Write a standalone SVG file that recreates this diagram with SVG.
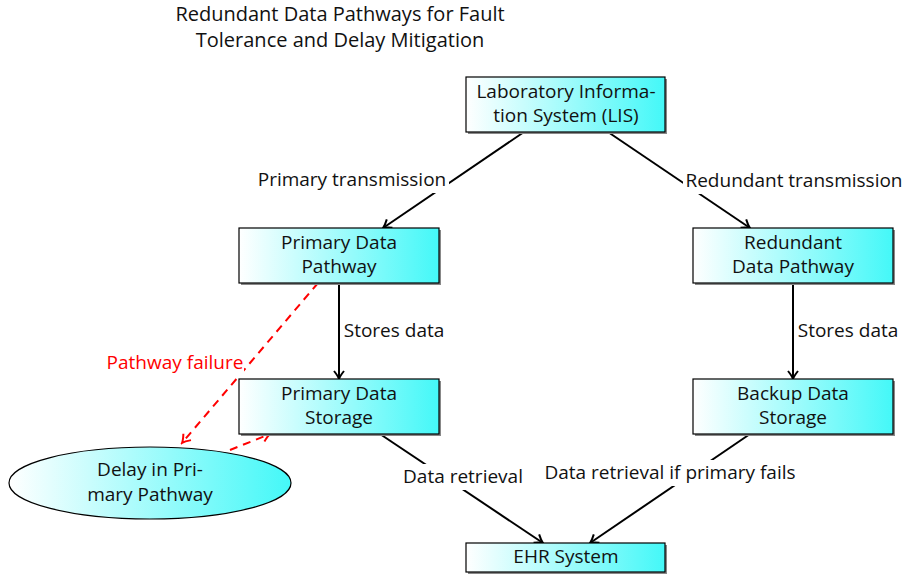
<svg xmlns="http://www.w3.org/2000/svg" width="906" height="574" viewBox="0 0 906 574">
  <style>
    text { font-family: "Open Sans", "Noto Sans", "DejaVu Sans", sans-serif; font-size: 19px; fill: #111; }
    .title { font-size: 20px; }
    .box { fill: url(#cyanGrad); stroke: #000; stroke-width: 1.2; }
    .shadow { fill: #888; }
    .edge { stroke: #000; stroke-width: 2; fill: none; marker-end: url(#arrowBlack); }
    .fail { stroke: #f00; stroke-width: 2; fill: none; stroke-dasharray: 8 6; marker-end: url(#arrowRed); }
    .lblbg { fill: #fff; }
    .red { fill: #f00; }
  </style>
  <defs>
    <linearGradient id="cyanGrad" x1="0" y1="0" x2="1" y2="0">
      <stop offset="0" stop-color="#ffffff"/>
      <stop offset="1" stop-color="#44f8f8"/>
    </linearGradient>
    <marker id="arrowBlack" viewBox="-10 -6 12 12" refX="0" refY="0" markerWidth="12" markerHeight="12" markerUnits="userSpaceOnUse" orient="auto">
      <path d="M-8,-5 Q-3,-1 0,0 Q-3,1 -8,5" fill="none" stroke="#000" stroke-width="2"/>
    </marker>
    <marker id="arrowRed" viewBox="-10 -6 12 12" refX="0" refY="0" markerWidth="12" markerHeight="12" markerUnits="userSpaceOnUse" orient="auto">
      <path d="M-8,-5 Q-3,-1 0,0 Q-3,1 -8,5" fill="none" stroke="#f00" stroke-width="2"/>
    </marker>
  </defs>

  <rect width="906" height="574" fill="#fff"/>

  <g id="title">
    <text class="title" x="340" y="21" text-anchor="middle">Redundant Data Pathways for Fault</text>
    <text class="title" x="340" y="47" text-anchor="middle">Tolerance and Delay Mitigation</text>
  </g>

  <g id="connectors">
    <line class="edge" x1="524" y1="132" x2="383" y2="228"/>
    <line class="edge" x1="608" y1="132" x2="750" y2="228"/>
    <line class="edge" x1="339" y1="283" x2="339" y2="379"/>
    <line class="edge" x1="793" y1="283" x2="793" y2="379"/>
    <line class="edge" x1="380" y1="434" x2="543" y2="543"/>
    <line class="edge" x1="750" y1="434" x2="590" y2="543"/>
    <line class="fail" x1="318" y1="283" x2="182" y2="443"/>
    <line class="fail" x1="230" y1="450" x2="270" y2="434"/>

    <rect class="lblbg" x="255" y="167" width="194" height="26"/>
    <text x="352" y="186" text-anchor="middle">Primary transmission</text>
    <rect class="lblbg" x="683" y="168" width="222" height="26"/>
    <text x="794" y="187" text-anchor="middle">Redundant transmission</text>
    <rect class="lblbg" x="343" y="318" width="102" height="26"/>
    <text x="394" y="337" text-anchor="middle">Stores data</text>
    <rect class="lblbg" x="797" y="318" width="102" height="26"/>
    <text x="848" y="337" text-anchor="middle">Stores data</text>
    <rect class="lblbg" x="402" y="464" width="122" height="26"/>
    <text x="463" y="483" text-anchor="middle">Data retrieval</text>
    <rect class="lblbg" x="544" y="460" width="252" height="26"/>
    <text x="670" y="479" text-anchor="middle">Data retrieval if primary fails</text>
    <rect class="lblbg" x="106" y="350" width="138" height="26"/>
    <text class="red" x="175" y="369" text-anchor="middle">Pathway failure</text>
  </g>

  <g id="lis">
    <rect class="shadow" x="468" y="79" width="199" height="55"/>
    <rect class="box" x="466" y="77" width="199" height="55"/>
    <text x="566" y="98" text-anchor="middle">Laboratory Informa-</text>
    <text x="566" y="122" text-anchor="middle">tion System (LIS)</text>
  </g>

  <g id="primary-pathway">
    <rect class="shadow" x="241" y="230" width="200" height="55"/>
    <rect class="box" x="239" y="228" width="200" height="55"/>
    <text x="339" y="249" text-anchor="middle">Primary Data</text>
    <text x="339" y="273" text-anchor="middle">Pathway</text>
  </g>

  <g id="redundant-pathway">
    <rect class="shadow" x="695" y="230" width="200" height="55"/>
    <rect class="box" x="693" y="228" width="200" height="55"/>
    <text x="793" y="249" text-anchor="middle">Redundant</text>
    <text x="793" y="273" text-anchor="middle">Data Pathway</text>
  </g>

  <g id="primary-storage">
    <rect class="shadow" x="241" y="381" width="200" height="55"/>
    <rect class="box" x="239" y="379" width="200" height="55"/>
    <text x="339" y="400" text-anchor="middle">Primary Data</text>
    <text x="339" y="424" text-anchor="middle">Storage</text>
  </g>

  <g id="backup-storage">
    <rect class="shadow" x="695" y="381" width="200" height="55"/>
    <rect class="box" x="693" y="379" width="200" height="55"/>
    <text x="793" y="400" text-anchor="middle">Backup Data</text>
    <text x="793" y="424" text-anchor="middle">Storage</text>
  </g>

  <g id="ehr">
    <rect class="shadow" x="468" y="545" width="199" height="29"/>
    <rect class="box" x="466" y="543" width="199" height="29"/>
    <text x="566" y="563" text-anchor="middle">EHR System</text>
  </g>

  <g id="delay">
    <ellipse cx="150" cy="483" rx="141" ry="36" fill="url(#cyanGrad)" stroke="#000" stroke-width="1.2"/>
    <text x="150" y="476" text-anchor="middle">Delay in Pri-</text>
    <text x="150" y="501" text-anchor="middle">mary Pathway</text>
  </g>
</svg>
